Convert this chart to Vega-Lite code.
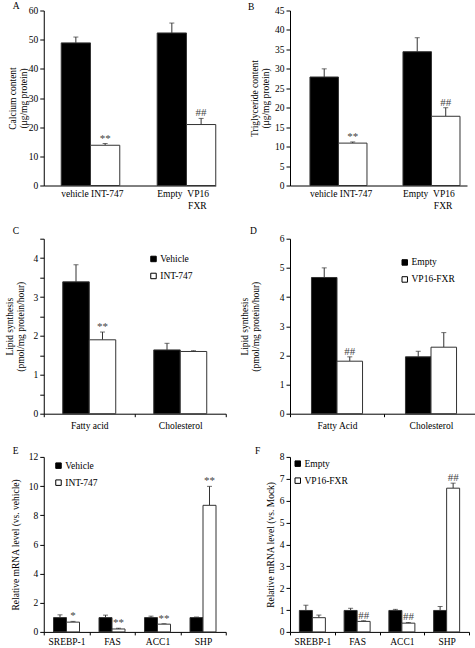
{
  "$schema": "https://vega.github.io/schema/vega-lite/v6.json",
  "padding": {"left": 3.75, "top": 0.5, "right": 0, "bottom": 0},
  "background": "white",
  "datasets": {
    "A": [
      {"grp": "vehicle INT-747", "arm": "control", "value": 48.9, "upper": 50.9, "sig": ""},
      {"grp": "vehicle INT-747", "arm": "treated", "value": 13.8, "upper": 14.4, "sig": "**"},
      {"grp": "Empty VP16 FXR", "arm": "control", "value": 52.3, "upper": 55.7, "sig": ""},
      {"grp": "Empty VP16 FXR", "arm": "treated", "value": 20.9, "upper": 23.0, "sig": "##"}
    ],
    "B": [
      {"grp": "vehicle INT-747", "arm": "control", "value": 27.9, "upper": 30.0, "sig": ""},
      {"grp": "vehicle INT-747", "arm": "treated", "value": 10.9, "upper": 11.2, "sig": "**"},
      {"grp": "Empty VP16 FXR", "arm": "control", "value": 34.4, "upper": 38.0, "sig": ""},
      {"grp": "Empty VP16 FXR", "arm": "treated", "value": 17.8, "upper": 20.0, "sig": "##"}
    ],
    "C": [
      {"grp": "Fatty acid", "arm": "Vehicle", "value": 3.39, "upper": 3.83, "sig": ""},
      {"grp": "Fatty acid", "arm": "INT-747", "value": 1.9, "upper": 2.1, "sig": "**"},
      {"grp": "Cholesterol", "arm": "Vehicle", "value": 1.64, "upper": 1.81, "sig": ""},
      {"grp": "Cholesterol", "arm": "INT-747", "value": 1.6, "upper": 1.62, "sig": ""}
    ],
    "D": [
      {"grp": "Fatty Acid", "arm": "Empty", "value": 4.67, "upper": 5.0, "sig": ""},
      {"grp": "Fatty Acid", "arm": "VP16-FXR", "value": 1.8, "upper": 1.95, "sig": "##"},
      {"grp": "Cholesterol", "arm": "Empty", "value": 1.95, "upper": 2.14, "sig": ""},
      {"grp": "Cholesterol", "arm": "VP16-FXR", "value": 2.28, "upper": 2.78, "sig": ""}
    ],
    "E": [
      {"grp": "SREBP-1", "arm": "Vehicle", "value": 0.98, "upper": 1.17, "sig": ""},
      {"grp": "SREBP-1", "arm": "INT-747", "value": 0.67, "upper": 0.72, "sig": "*"},
      {"grp": "FAS", "arm": "Vehicle", "value": 0.98, "upper": 1.15, "sig": ""},
      {"grp": "FAS", "arm": "INT-747", "value": 0.2, "upper": 0.25, "sig": "**"},
      {"grp": "ACC1", "arm": "Vehicle", "value": 0.98, "upper": 1.08, "sig": ""},
      {"grp": "ACC1", "arm": "INT-747", "value": 0.53, "upper": 0.56, "sig": "**"},
      {"grp": "SHP", "arm": "Vehicle", "value": 0.98, "upper": 1.02, "sig": ""},
      {"grp": "SHP", "arm": "INT-747", "value": 8.68, "upper": 9.98, "sig": "**"}
    ],
    "F": [
      {"grp": "SREBP-1", "arm": "Empty", "value": 0.98, "upper": 1.22, "sig": ""},
      {"grp": "SREBP-1", "arm": "VP16-FXR", "value": 0.65, "upper": 0.77, "sig": ""},
      {"grp": "FAS", "arm": "Empty", "value": 0.98, "upper": 1.08, "sig": ""},
      {"grp": "FAS", "arm": "VP16-FXR", "value": 0.48, "upper": 0.51, "sig": "##"},
      {"grp": "ACC1", "arm": "Empty", "value": 0.98, "upper": 1.03, "sig": ""},
      {"grp": "ACC1", "arm": "VP16-FXR", "value": 0.4, "upper": 0.43, "sig": "##"},
      {"grp": "SHP", "arm": "Empty", "value": 0.98, "upper": 1.16, "sig": ""},
      {"grp": "SHP", "arm": "VP16-FXR", "value": 6.57, "upper": 6.8, "sig": "##"}
    ]
  },
  "columns": 2,
  "align": "each",
  "bounds": "full",
  "spacing": {"row": 15.2, "column": 12.25},
  "resolve": {"scale": {"x": "independent", "y": "independent", "color": "independent", "xOffset": "independent"}, "legend": {"color": "independent"}},
  "concat": [
    {
      "data": {"name": "A"},
      "width": 172, "height": 175,
      "title": {"text": "A", "dx": -31, "dy": 7},
      "encoding": {
        "x": {"field": "grp", "type": "nominal", "sort": null, "title": null,
          "scale": {"paddingInner": 0.39, "paddingOuter": 0.091, "align": 1},
          "axis": {"ticks": false, "labelAngle": 0, "labelAlign": "left", "labelOffset": -29.25, "labelPadding": 3, "labelLineHeight": 12, "labelExpr": "datum.value == 'Empty VP16 FXR' ? ['Empty\u00a0\u00a0VP16', '\u200b\u00a0\u00a0\u00a0\u00a0\u00a0\u00a0\u00a0\u00a0\u00a0\u00a0\u00a0\u00a0\u00a0FXR'] : datum.label"}},
        "xOffset": {"field": "arm", "type": "nominal", "sort": ["control", "treated"], "scale": {"paddingInner": 0, "paddingOuter": 0}}
      },
      "layer": [
        {"mark": {"type": "rule", "color": "#333", "strokeWidth": 1},
         "encoding": {"y": {"field": "value", "type": "quantitative", "scale": {"domain": [0, 60], "nice": false}, "axis": {"values": [0, 10, 20, 30, 40, 50, 60], "title": ["Calcium content", "(μg/mg protein)"], "titlePadding": 0}}, "y2": {"field": "upper"}}},
        {"mark": {"type": "tick", "orient": "horizontal", "size": 5, "thickness": 1, "color": "#333"},
         "encoding": {"y": {"field": "upper", "type": "quantitative", "scale": {"domain": [0, 60], "nice": false}, "axis": {"values": [0, 10, 20, 30, 40, 50, 60], "title": ["Calcium content", "(μg/mg protein)"], "titlePadding": 0}}}},
        {"mark": {"type": "bar", "stroke": "#333", "strokeWidth": 1},
         "encoding": {"y": {"field": "value", "type": "quantitative", "scale": {"domain": [0, 60], "nice": false}, "axis": {"values": [0, 10, 20, 30, 40, 50, 60], "title": ["Calcium content", "(μg/mg protein)"], "titlePadding": 0}},
           "color": {"field": "arm", "type": "nominal", "scale": {"domain": ["control", "treated"], "range": ["black", "white"]}, "legend": null}}},
        {"mark": {"type": "text", "font": "Liberation Serif", "fontSize": 11, "fill": "#444", "baseline": "alphabetic", "dy": -2},
         "encoding": {"y": {"field": "upper", "type": "quantitative", "scale": {"domain": [0, 60], "nice": false}, "axis": {"values": [0, 10, 20, 30, 40, 50, 60], "title": ["Calcium content", "(μg/mg protein)"], "titlePadding": 0}}, "text": {"field": "sig"}}}
      ]
    },
    {
      "data": {"name": "B"},
      "width": 177, "height": 175,
      "title": {"text": "B", "dx": -42, "dy": 8},
      "encoding": {
        "x": {"field": "grp", "type": "nominal", "sort": null, "title": null,
          "scale": {"paddingInner": 0.387, "paddingOuter": 0.145, "align": 0.74},
          "axis": {"ticks": false, "labelAngle": 0, "labelAlign": "left", "labelOffset": -28.5, "labelPadding": 3, "labelLineHeight": 12, "labelExpr": "datum.value == 'Empty VP16 FXR' ? ['Empty\u00a0\u00a0VP16', '\u200b\u00a0\u00a0\u00a0\u00a0\u00a0\u00a0\u00a0\u00a0\u00a0\u00a0\u00a0\u00a0\u00a0FXR'] : datum.label"}},
        "xOffset": {"field": "arm", "type": "nominal", "sort": ["control", "treated"], "scale": {"paddingInner": 0, "paddingOuter": 0}}
      },
      "layer": [
        {"mark": {"type": "rule", "color": "#333", "strokeWidth": 1},
         "encoding": {"y": {"field": "value", "type": "quantitative", "scale": {"domain": [0, 45], "nice": false}, "axis": {"values": [0, 5, 10, 15, 20, 25, 30, 35, 40, 45], "title": ["Triglyceride content", "(μg/mg protein)"], "titlePadding": 4}}, "y2": {"field": "upper"}}},
        {"mark": {"type": "tick", "orient": "horizontal", "size": 5, "thickness": 1, "color": "#333"},
         "encoding": {"y": {"field": "upper", "type": "quantitative", "scale": {"domain": [0, 45], "nice": false}, "axis": {"values": [0, 5, 10, 15, 20, 25, 30, 35, 40, 45], "title": ["Triglyceride content", "(μg/mg protein)"], "titlePadding": 4}}}},
        {"mark": {"type": "bar", "stroke": "#333", "strokeWidth": 1},
         "encoding": {"y": {"field": "value", "type": "quantitative", "scale": {"domain": [0, 45], "nice": false}, "axis": {"values": [0, 5, 10, 15, 20, 25, 30, 35, 40, 45], "title": ["Triglyceride content", "(μg/mg protein)"], "titlePadding": 4}},
           "color": {"field": "arm", "type": "nominal", "scale": {"domain": ["control", "treated"], "range": ["black", "white"]}, "legend": null}}},
        {"mark": {"type": "text", "font": "Liberation Serif", "fontSize": 11, "fill": "#444", "baseline": "alphabetic", "dy": -2},
         "encoding": {"y": {"field": "upper", "type": "quantitative", "scale": {"domain": [0, 45], "nice": false}, "axis": {"values": [0, 5, 10, 15, 20, 25, 30, 35, 40, 45], "title": ["Triglyceride content", "(μg/mg protein)"], "titlePadding": 4}}, "text": {"field": "sig"}}}
      ]
    },
    {
      "data": {"name": "C"},
      "width": 182, "height": 175,
      "title": {"text": "C", "dx": -31, "dy": 4},
      "encoding": {
        "x": {"field": "grp", "type": "nominal", "sort": null, "title": null,
          "scale": {"paddingInner": 0, "paddingOuter": 0},
          "axis": {"tickBand": "extent", "ticks": true, "tickSize": 3, "labelAngle": 0, "labelPadding": 4}},
        "xOffset": {"field": "arm", "type": "nominal", "sort": ["Vehicle", "INT-747"], "scale": {"paddingInner": 0, "paddingOuter": 0.717}}
      },
      "layer": [
        {"mark": {"type": "rule", "color": "#333", "strokeWidth": 1},
         "encoding": {"y": {"field": "value", "type": "quantitative", "scale": {"domain": [0, 4.5], "nice": false}, "axis": {"values": [0, 0.5, 1, 1.5, 2, 2.5, 3, 3.5, 4, 4.5], "labelExpr": "datum.value % 1 == 0 ? format(datum.value, 'd') : ''", "title": ["Lipid synthesis", "(pmol/mg protein/hour)"], "titlePadding": 8}}, "y2": {"field": "upper"}}},
        {"mark": {"type": "tick", "orient": "horizontal", "size": 5, "thickness": 1, "color": "#333"},
         "encoding": {"y": {"field": "upper", "type": "quantitative", "scale": {"domain": [0, 4.5], "nice": false}, "axis": {"values": [0, 0.5, 1, 1.5, 2, 2.5, 3, 3.5, 4, 4.5], "labelExpr": "datum.value % 1 == 0 ? format(datum.value, 'd') : ''", "title": ["Lipid synthesis", "(pmol/mg protein/hour)"], "titlePadding": 8}}}},
        {"mark": {"type": "bar", "stroke": "#333", "strokeWidth": 1},
         "encoding": {"y": {"field": "value", "type": "quantitative", "scale": {"domain": [0, 4.5], "nice": false}, "axis": {"values": [0, 0.5, 1, 1.5, 2, 2.5, 3, 3.5, 4, 4.5], "labelExpr": "datum.value % 1 == 0 ? format(datum.value, 'd') : ''", "title": ["Lipid synthesis", "(pmol/mg protein/hour)"], "titlePadding": 8}},
           "color": {"field": "arm", "type": "nominal", "title": null, "scale": {"domain": ["Vehicle", "INT-747"], "range": ["black", "white"]}, "legend": {"orient": "none", "legendX": 105, "legendY": 15.5}}}},
        {"mark": {"type": "text", "font": "Liberation Serif", "fontSize": 11, "fill": "#444", "baseline": "alphabetic", "dy": -2},
         "encoding": {"y": {"field": "upper", "type": "quantitative", "scale": {"domain": [0, 4.5], "nice": false}, "axis": {"values": [0, 0.5, 1, 1.5, 2, 2.5, 3, 3.5, 4, 4.5], "labelExpr": "datum.value % 1 == 0 ? format(datum.value, 'd') : ''", "title": ["Lipid synthesis", "(pmol/mg protein/hour)"], "titlePadding": 8}}, "text": {"field": "sig"}}}
      ]
    },
    {
      "data": {"name": "D"},
      "width": 188, "height": 175,
      "title": {"text": "D", "dx": -40, "dy": 4},
      "encoding": {
        "x": {"field": "grp", "type": "nominal", "sort": null, "title": null,
          "scale": {"paddingInner": 0, "paddingOuter": 0},
          "axis": {"tickBand": "extent", "ticks": true, "tickSize": 3, "labelAngle": 0, "labelPadding": 4}},
        "xOffset": {"field": "arm", "type": "nominal", "sort": ["Empty", "VP16-FXR"], "scale": {"paddingInner": 0, "paddingOuter": 0.84}}
      },
      "layer": [
        {"mark": {"type": "rule", "color": "#333", "strokeWidth": 1},
         "encoding": {"y": {"field": "value", "type": "quantitative", "scale": {"domain": [0, 6], "nice": false}, "axis": {"values": [0, 1, 2, 3, 4, 5, 6], "title": ["Lipid synthesis", "(pmol/mg protein/hour)"], "titlePadding": 19}}, "y2": {"field": "upper"}}},
        {"mark": {"type": "tick", "orient": "horizontal", "size": 5, "thickness": 1, "color": "#333"},
         "encoding": {"y": {"field": "upper", "type": "quantitative", "scale": {"domain": [0, 6], "nice": false}, "axis": {"values": [0, 1, 2, 3, 4, 5, 6], "title": ["Lipid synthesis", "(pmol/mg protein/hour)"], "titlePadding": 19}}}},
        {"mark": {"type": "bar", "stroke": "#333", "strokeWidth": 1},
         "encoding": {"y": {"field": "value", "type": "quantitative", "scale": {"domain": [0, 6], "nice": false}, "axis": {"values": [0, 1, 2, 3, 4, 5, 6], "title": ["Lipid synthesis", "(pmol/mg protein/hour)"], "titlePadding": 19}},
           "color": {"field": "arm", "type": "nominal", "title": null, "scale": {"domain": ["Empty", "VP16-FXR"], "range": ["black", "white"]}, "legend": {"orient": "none", "legendX": 110, "legendY": 19}}}},
        {"mark": {"type": "text", "font": "Liberation Serif", "fontSize": 11, "fill": "#444", "baseline": "alphabetic", "dy": -2},
         "encoding": {"y": {"field": "upper", "type": "quantitative", "scale": {"domain": [0, 6], "nice": false}, "axis": {"values": [0, 1, 2, 3, 4, 5, 6], "title": ["Lipid synthesis", "(pmol/mg protein/hour)"], "titlePadding": 19}}, "text": {"field": "sig"}}}
      ]
    },
    {
      "data": {"name": "E"},
      "width": 182, "height": 175,
      "title": {"text": "E", "dx": -31, "dy": 6},
      "encoding": {
        "x": {"field": "grp", "type": "nominal", "sort": null, "title": null,
          "scale": {"paddingInner": 0, "paddingOuter": 0},
          "axis": {"tickBand": "extent", "ticks": true, "tickSize": 3, "labelAngle": 0, "labelPadding": 1.5}},
        "xOffset": {"field": "arm", "type": "nominal", "sort": ["Vehicle", "INT-747"], "scale": {"paddingInner": 0, "paddingOuter": 0.75}}
      },
      "layer": [
        {"mark": {"type": "rule", "color": "#333", "strokeWidth": 1},
         "encoding": {"y": {"field": "value", "type": "quantitative", "scale": {"domain": [0, 12], "nice": false}, "axis": {"values": [0, 2, 4, 6, 8, 10, 12], "title": "Relative mRNA level (vs. vehicle)", "titlePadding": 8}}, "y2": {"field": "upper"}}},
        {"mark": {"type": "tick", "orient": "horizontal", "size": 5, "thickness": 1, "color": "#333"},
         "encoding": {"y": {"field": "upper", "type": "quantitative", "scale": {"domain": [0, 12], "nice": false}, "axis": {"values": [0, 2, 4, 6, 8, 10, 12], "title": "Relative mRNA level (vs. vehicle)", "titlePadding": 8}}}},
        {"mark": {"type": "bar", "stroke": "#333", "strokeWidth": 1},
         "encoding": {"y": {"field": "value", "type": "quantitative", "scale": {"domain": [0, 12], "nice": false}, "axis": {"values": [0, 2, 4, 6, 8, 10, 12], "title": "Relative mRNA level (vs. vehicle)", "titlePadding": 8}},
           "color": {"field": "arm", "type": "nominal", "title": null, "scale": {"domain": ["Vehicle", "INT-747"], "range": ["black", "white"]}, "legend": {"orient": "none", "legendX": 10, "legendY": 4}}}},
        {"mark": {"type": "text", "font": "Liberation Serif", "fontSize": 11, "fill": "#444", "baseline": "alphabetic", "dy": -2},
         "encoding": {"y": {"field": "upper", "type": "quantitative", "scale": {"domain": [0, 12], "nice": false}, "axis": {"values": [0, 2, 4, 6, 8, 10, 12], "title": "Relative mRNA level (vs. vehicle)", "titlePadding": 8}}, "text": {"field": "sig"}}}
      ]
    },
    {
      "data": {"name": "F"},
      "width": 179, "height": 175,
      "title": {"text": "F", "dx": -35, "dy": 6},
      "encoding": {
        "x": {"field": "grp", "type": "nominal", "sort": null, "title": null,
          "scale": {"paddingInner": 0, "paddingOuter": 0},
          "axis": {"tickBand": "extent", "ticks": true, "tickSize": 3, "labelAngle": 0, "labelPadding": 1.5}},
        "xOffset": {"field": "arm", "type": "nominal", "sort": ["Empty", "VP16-FXR"], "scale": {"paddingInner": 0, "paddingOuter": 0.72}}
      },
      "layer": [
        {"mark": {"type": "rule", "color": "#333", "strokeWidth": 1},
         "encoding": {"y": {"field": "value", "type": "quantitative", "scale": {"domain": [0, 8], "nice": false}, "axis": {"values": [0, 1, 2, 3, 4, 5, 6, 7, 8], "title": "Relative mRNA level (vs. Mock)", "titlePadding": 4}}, "y2": {"field": "upper"}}},
        {"mark": {"type": "tick", "orient": "horizontal", "size": 5, "thickness": 1, "color": "#333"},
         "encoding": {"y": {"field": "upper", "type": "quantitative", "scale": {"domain": [0, 8], "nice": false}, "axis": {"values": [0, 1, 2, 3, 4, 5, 6, 7, 8], "title": "Relative mRNA level (vs. Mock)", "titlePadding": 4}}}},
        {"mark": {"type": "bar", "stroke": "#333", "strokeWidth": 1},
         "encoding": {"y": {"field": "value", "type": "quantitative", "scale": {"domain": [0, 8], "nice": false}, "axis": {"values": [0, 1, 2, 3, 4, 5, 6, 7, 8], "title": "Relative mRNA level (vs. Mock)", "titlePadding": 4}},
           "color": {"field": "arm", "type": "nominal", "title": null, "scale": {"domain": ["Empty", "VP16-FXR"], "range": ["black", "white"]}, "legend": {"orient": "none", "legendX": 3, "legendY": 2}}}},
        {"mark": {"type": "text", "font": "Liberation Serif", "fontSize": 11, "fill": "#444", "baseline": "alphabetic", "dy": -2},
         "encoding": {"y": {"field": "upper", "type": "quantitative", "scale": {"domain": [0, 8], "nice": false}, "axis": {"values": [0, 1, 2, 3, 4, 5, 6, 7, 8], "title": "Relative mRNA level (vs. Mock)", "titlePadding": 4}}, "text": {"field": "sig"}}}
      ]
    }
  ],
  "config": {
    "font": "Liberation Serif",
    "view": {"stroke": null},
    "axis": {"labelFont": "Liberation Serif", "labelFontSize": 9.5, "labelColor": "black", "titleFont": "Liberation Serif", "titleFontSize": 9.5, "titleFontWeight": "normal", "titleColor": "black", "titleLineHeight": 11, "domainColor": "black", "tickColor": "black", "grid": false, "tickSize": 4, "labelPadding": 2, "labelFlush": false, "labelOverlap": false},
    "legend": {"labelFont": "Liberation Serif", "labelFontSize": 9.5, "labelColor": "black", "symbolType": "square", "symbolSize": 30, "symbolStrokeColor": "black", "symbolStrokeWidth": 1, "rowPadding": 6, "labelOffset": 2, "padding": 0},
    "title": {"font": "Liberation Serif", "fontSize": 9.5, "fontWeight": "normal", "color": "black", "anchor": "start", "frame": "group", "offset": 2}
  }
}
